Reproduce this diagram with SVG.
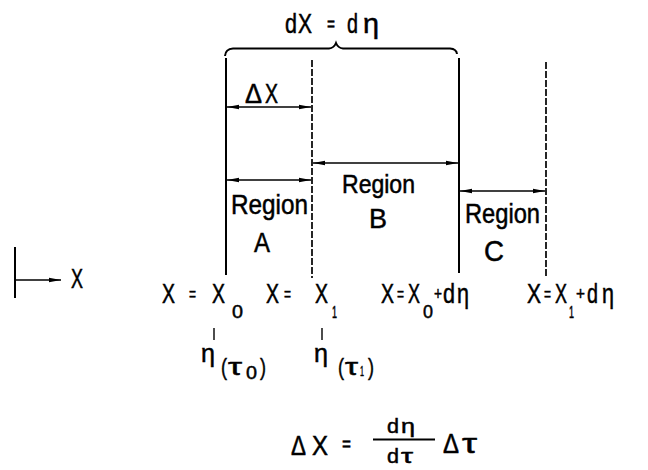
<svg xmlns="http://www.w3.org/2000/svg" width="648" height="470" viewBox="0 0 648 470">
<style>
.t{font-family:"Liberation Sans",Arial,sans-serif;fill:#000;stroke:#000;stroke-width:0.5}
.s{stroke:#000;stroke-width:2;fill:none}
.d{stroke:#000;stroke-width:1.7;fill:none;stroke-dasharray:7 2}
.a{stroke:#000;stroke-width:1.6;fill:none;marker-start:url(#ah);marker-end:url(#ah)}
</style>
<defs>
<marker id="ah" viewBox="0 0 12 6" refX="12" refY="3" markerWidth="12" markerHeight="6" markerUnits="userSpaceOnUse" orient="auto-start-reverse">
<path d="M0,0.8 L12,3 L0,5.2 Z" fill="#000"/>
</marker>
</defs>
<rect width="648" height="470" fill="#fff"/>
<g id="connectors">
<path class="s" d="M225,56 Q225.5,49 233,48.5 L329,48.5 Q334,48 336,43 Q338,48 343,48.5 L450,48.5 Q456.5,49 457,54"/>
<line class="s" x1="226" y1="58" x2="226" y2="275"/>
<line class="d" x1="312" y1="60" x2="312" y2="278"/>
<line class="s" x1="459" y1="58" x2="459" y2="273"/>
<line class="d" x1="546" y1="62" x2="546" y2="276"/>
<line class="a" x1="227" y1="107" x2="311" y2="107"/>
<line class="a" x1="227" y1="180" x2="311" y2="180"/>
<line class="a" x1="313" y1="163" x2="458" y2="163"/>
<line class="a" x1="460" y1="191" x2="545" y2="191"/>
<line class="s" x1="15" y1="247" x2="15" y2="298"/>
<line x1="15" y1="280" x2="61" y2="280" stroke="#000" stroke-width="1.6" marker-end="url(#ah)"/>
<line x1="214" y1="328" x2="214" y2="340" stroke="#000" stroke-width="1.4"/>
<line x1="322" y1="328" x2="322" y2="340" stroke="#000" stroke-width="1.4"/>
<line x1="373" y1="439.5" x2="435" y2="439.5" stroke="#000" stroke-width="1.8"/>
</g>
<g id="top-label" font-size="27">
<text class="t" x="285" y="33" textLength="12" lengthAdjust="spacingAndGlyphs">d</text>
<text class="t" x="298" y="33" textLength="14" lengthAdjust="spacingAndGlyphs">X</text>
<text class="t" x="327" y="31" font-size="20" textLength="8" lengthAdjust="spacingAndGlyphs">=</text>
<text class="t" x="347" y="33" textLength="11" lengthAdjust="spacingAndGlyphs">d</text>
<text class="t" x="363" y="33" textLength="16" lengthAdjust="spacingAndGlyphs">η</text>
</g>
<g id="delta-x" font-size="27">
<text class="t" x="245" y="103" textLength="17" lengthAdjust="spacingAndGlyphs">Δ</text>
<text class="t" x="265" y="103" textLength="13" lengthAdjust="spacingAndGlyphs">X</text>
</g>
<g id="region-a">
<text class="t" font-size="28" x="231" y="214" textLength="77" lengthAdjust="spacingAndGlyphs">Region</text>
<text class="t" font-size="28" x="254" y="252" textLength="16" lengthAdjust="spacingAndGlyphs">A</text>
</g>
<g id="region-b">
<text class="t" font-size="25" x="342" y="193" textLength="73" lengthAdjust="spacingAndGlyphs">Region</text>
<text class="t" font-size="28" x="369" y="228" textLength="18" lengthAdjust="spacingAndGlyphs">B</text>
</g>
<g id="region-c">
<text class="t" font-size="27" x="465" y="223" textLength="75" lengthAdjust="spacingAndGlyphs">Region</text>
<text class="t" font-size="30" x="484" y="261" textLength="20" lengthAdjust="spacingAndGlyphs">C</text>
</g>
<g id="axis-label">
<text class="t" font-size="27" x="71" y="288" textLength="12" lengthAdjust="spacingAndGlyphs">X</text>
</g>
<g id="x0-label" font-size="27">
<text class="t" x="162" y="303" textLength="13" lengthAdjust="spacingAndGlyphs">X</text>
<text class="t" x="189" y="300" font-size="18" textLength="7" lengthAdjust="spacingAndGlyphs">=</text>
<text class="t" x="212" y="303" textLength="13" lengthAdjust="spacingAndGlyphs">X</text>
<text class="t" x="232" y="318" font-size="19" textLength="11" lengthAdjust="spacingAndGlyphs">0</text>
</g>
<g id="x1-label" font-size="27">
<text class="t" x="266" y="303" textLength="13" lengthAdjust="spacingAndGlyphs">X</text>
<text class="t" x="284" y="300" font-size="18" textLength="7" lengthAdjust="spacingAndGlyphs">=</text>
<text class="t" x="315" y="303" textLength="13" lengthAdjust="spacingAndGlyphs">X</text>
<text class="t" x="332" y="318" font-size="16" textLength="5" lengthAdjust="spacingAndGlyphs">1</text>
</g>
<g id="x0d-label" font-size="27">
<text class="t" x="381" y="303" textLength="13" lengthAdjust="spacingAndGlyphs">X</text>
<text class="t" x="397" y="300" font-size="18" textLength="7" lengthAdjust="spacingAndGlyphs">=</text>
<text class="t" x="408" y="303" textLength="12" lengthAdjust="spacingAndGlyphs">X</text>
<text class="t" x="423" y="318" font-size="19" textLength="10" lengthAdjust="spacingAndGlyphs">0</text>
<text class="t" x="434" y="300" font-size="18" textLength="8" lengthAdjust="spacingAndGlyphs">+</text>
<text class="t" x="443" y="303" textLength="12" lengthAdjust="spacingAndGlyphs">d</text>
<text class="t" x="457" y="303" textLength="12" lengthAdjust="spacingAndGlyphs">η</text>
</g>
<g id="x1d-label" font-size="27">
<text class="t" x="527" y="303" textLength="14" lengthAdjust="spacingAndGlyphs">X</text>
<text class="t" x="544" y="300" font-size="18" textLength="7" lengthAdjust="spacingAndGlyphs">=</text>
<text class="t" x="555" y="303" textLength="12" lengthAdjust="spacingAndGlyphs">X</text>
<text class="t" x="569" y="318" font-size="16" textLength="5" lengthAdjust="spacingAndGlyphs">1</text>
<text class="t" x="576" y="300" font-size="18" textLength="9" lengthAdjust="spacingAndGlyphs">+</text>
<text class="t" x="587" y="303" textLength="11" lengthAdjust="spacingAndGlyphs">d</text>
<text class="t" x="602" y="303" textLength="12" lengthAdjust="spacingAndGlyphs">η</text>
</g>
<g id="eta-tau0" font-size="24">
<text class="t" x="201" y="362" font-size="26" textLength="14" lengthAdjust="spacingAndGlyphs">η</text>
<text class="t" x="221" y="375" textLength="6" lengthAdjust="spacingAndGlyphs">(</text>
<text class="t" x="228" y="375" textLength="14" lengthAdjust="spacingAndGlyphs">τ</text>
<text class="t" x="246" y="379" font-size="19" textLength="11" lengthAdjust="spacingAndGlyphs">0</text>
<text class="t" x="260" y="375" textLength="6" lengthAdjust="spacingAndGlyphs">)</text>
</g>
<g id="eta-tau1" font-size="24">
<text class="t" x="314" y="362" font-size="26" textLength="14" lengthAdjust="spacingAndGlyphs">η</text>
<text class="t" x="338" y="375" textLength="6" lengthAdjust="spacingAndGlyphs">(</text>
<text class="t" x="345" y="375" textLength="13" lengthAdjust="spacingAndGlyphs">τ</text>
<text class="t" x="360" y="376" font-size="15" textLength="4" lengthAdjust="spacingAndGlyphs">1</text>
<text class="t" x="368" y="375" textLength="6" lengthAdjust="spacingAndGlyphs">)</text>
</g>
<g id="formula" font-size="27">
<text class="t" x="291" y="455" textLength="15" lengthAdjust="spacingAndGlyphs">Δ</text>
<text class="t" x="312" y="455" textLength="16" lengthAdjust="spacingAndGlyphs">X</text>
<text class="t" x="342" y="451" font-size="20" textLength="9" lengthAdjust="spacingAndGlyphs">=</text>
<text class="t" x="387" y="433" font-size="21" textLength="12" lengthAdjust="spacingAndGlyphs">d</text>
<text class="t" x="401" y="433" font-size="21" textLength="14" lengthAdjust="spacingAndGlyphs">η</text>
<text class="t" x="387" y="463" font-size="21" textLength="12" lengthAdjust="spacingAndGlyphs">d</text>
<text class="t" x="401" y="463" font-size="21" textLength="12" lengthAdjust="spacingAndGlyphs">τ</text>
<text class="t" x="443" y="453" textLength="16" lengthAdjust="spacingAndGlyphs">Δ</text>
<text class="t" x="462" y="453" textLength="15" lengthAdjust="spacingAndGlyphs">τ</text>
</g>
</svg>
